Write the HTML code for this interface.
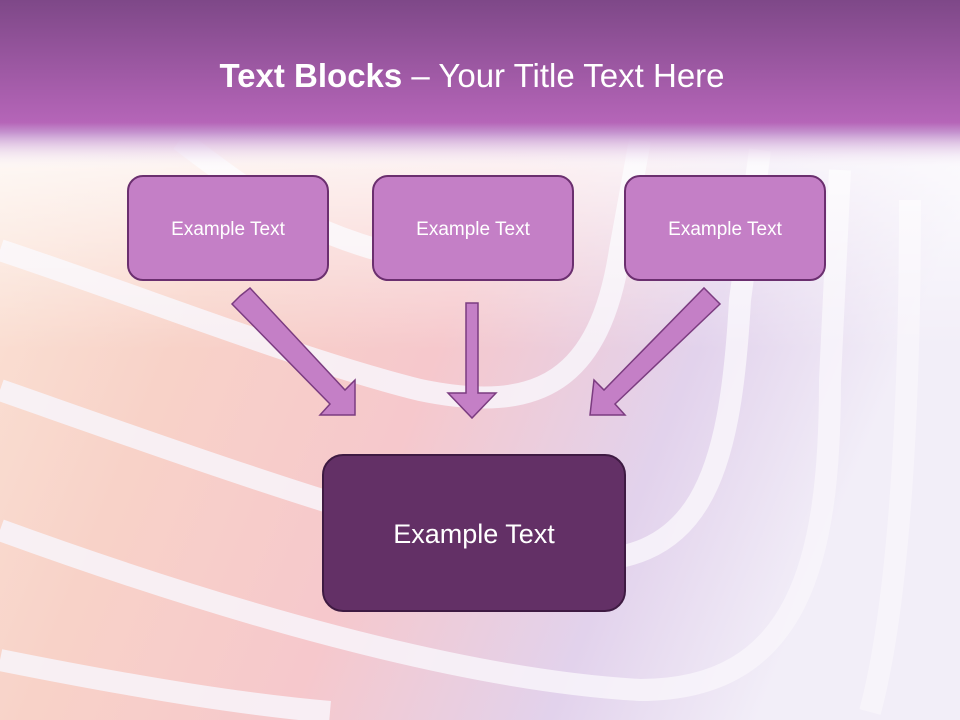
<!DOCTYPE html>
<html><head><meta charset="utf-8"><style>
html,body{margin:0;padding:0;width:960px;height:720px;overflow:hidden;}
body{position:relative;font-family:"Liberation Sans",sans-serif;}
svg{position:absolute;left:0;top:0;display:block;overflow:hidden;}
</style></head><body>
<svg width="960" height="720" viewBox="0 0 960 720" xmlns="http://www.w3.org/2000/svg">
<defs>
<linearGradient id="bg" x1="0" y1="0" x2="1" y2="0.3">
<stop offset="0" stop-color="#fbe6d8"/>
<stop offset="0.3" stop-color="#f8d2c8"/>
<stop offset="0.55" stop-color="#f6c8cc"/>
<stop offset="0.8" stop-color="#e2d2ec"/>
<stop offset="1" stop-color="#f2eef8"/>
</linearGradient>
<linearGradient id="hd" x1="0" y1="0" x2="0" y2="1">
<stop offset="0" stop-color="#7e4888"/>
<stop offset="0.72" stop-color="#b565b8"/>
<stop offset="0.78" stop-color="#c593cf" />
<stop offset="1" stop-color="#ffffff" stop-opacity="0"/>
</linearGradient>
<linearGradient id="fade" x1="0" y1="0" x2="0" y2="1">
<stop offset="0" stop-color="#ffffff" stop-opacity="0.9"/>
<stop offset="1" stop-color="#ffffff" stop-opacity="0"/>
</linearGradient>
<clipPath id="cp"><rect width="960" height="720"/></clipPath>
</defs>
<g clip-path="url(#cp)">
<rect width="960" height="720" fill="url(#bg)"/>
<g fill="none" stroke="#f8f4fa" stroke-opacity="0.85" stroke-width="22">
<path d="M0 250 C150 300 300 360 420 390 C540 415 600 380 620 250 L640 140"/>
<path d="M0 390 C200 460 420 540 560 560 C700 570 730 480 740 300 L760 150"/>
<path d="M0 530 C220 610 460 680 640 690 C800 690 830 560 830 380 L840 170"/>
<path d="M0 660 C150 690 250 705 330 712"/>
<path d="M870 712 C900 600 910 400 910 200"/>
<path d="M180 140 C260 200 320 250 480 270"/>
</g>
<rect width="960" height="230" y="120" fill="url(#fade)"/>
<rect width="960" height="170" fill="url(#hd)"/>
</g>
<text x="472" y="87" text-anchor="middle" font-family="Liberation Sans, sans-serif" font-size="33" fill="#ffffff"><tspan font-weight="bold">Text Blocks</tspan> – Your Title Text Here</text>
<g fill="#c47fc6" stroke="#6b2f6f" stroke-width="2">
<rect x="128" y="176" width="200" height="104" rx="15"/>
<rect x="373" y="176" width="200" height="104" rx="15"/>
<rect x="625" y="176" width="200" height="104" rx="15"/>
</g>
<rect x="323" y="455" width="302" height="156" rx="20" fill="#633066" stroke="#3e1a42" stroke-width="2"/>
<g font-size="19" fill="#ffffff" text-anchor="middle">
<text x="228" y="235">Example Text</text>
<text x="473" y="235">Example Text</text>
<text x="725" y="235">Example Text</text>
</g>
<text x="474" y="543" font-size="27" fill="#ffffff" text-anchor="middle">Example Text</text>
<g fill="#c47fc6" stroke="#7b3c80" stroke-width="1.5">
<polygon points="240,296 250,288 345,390 355,380 355,415 320,415 330,404 232,304"/>
<polygon points="466,303 478,303 478,393 496,393 472,418 448,393 466,393"/>
<polygon points="712,296 704,288 604,390 594,380 590,415 625,415 615,404 720,304"/>
</g>
</svg>
</body></html>
